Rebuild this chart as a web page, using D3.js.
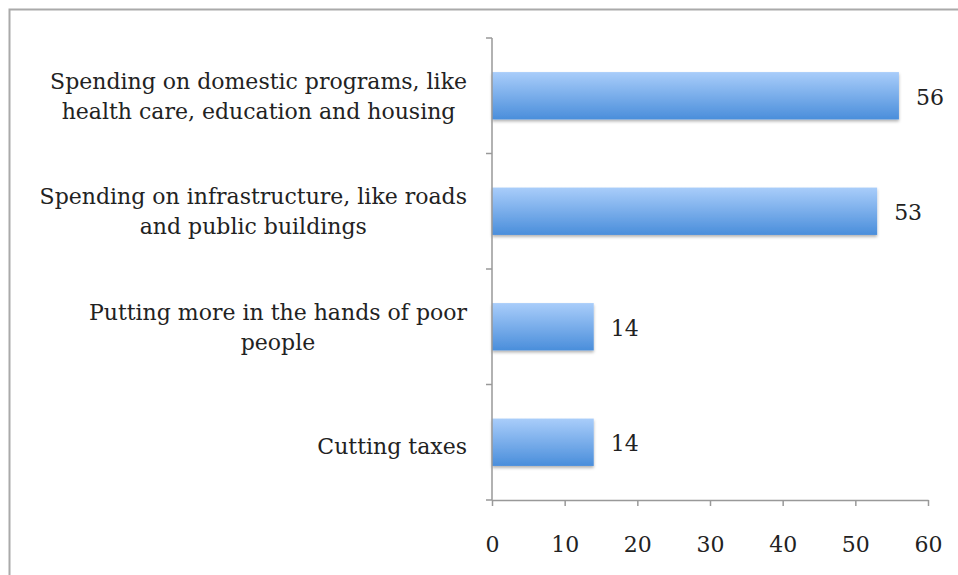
<!DOCTYPE html>
<html>
<head>
<meta charset="utf-8">
<script src="https://cdn.jsdelivr.net/npm/d3@7"></script>
<style>
  body { margin: 0; background: #fff; }
  svg { display: block; }
  text { font-family: "DejaVu Serif", "Liberation Serif", serif; fill: #222; }
</style>
</head>
<body>
<svg id="chart" width="958" height="575"></svg>
<script>
// Data
const categories = [
    ["Spending on domestic programs, like", "health care, education and housing"],
    ["Spending on infrastructure, like roads", "and public buildings"],
    ["Putting more in the hands of poor", "people"],
    ["Cutting taxes"]
];
const values = [56, 53, 14, 14];
const xTicks = [0, 10, 20, 30, 40, 50, 60];

const svg = d3.select("#chart");
const margin = { left: 492, right: 30, top: 38, bottom: 75 };
const width = 958 - margin.left - margin.right;
const height = 575 - margin.top - margin.bottom;

// frame
svg.append("rect")
    .attr("x", 9.5).attr("y", 9.5)
    .attr("width", 960).attr("height", 580)
    .attr("fill", "none")
    .attr("stroke", "#aaa")
    .attr("stroke-width", 2);

const defs = svg.append("defs");
const grad = defs.append("linearGradient")
    .attr("id", "barGrad")
    .attr("x1", 0).attr("y1", 0).attr("x2", 0).attr("y2", 1);
grad.append("stop").attr("offset", "0%").attr("stop-color", "#a9cdfa");
grad.append("stop").attr("offset", "100%").attr("stop-color", "#4a8edb");

const shadow = defs.append("filter").attr("id", "shadow")
    .attr("x", "-5%").attr("y", "-10%").attr("width", "110%").attr("height", "140%");
shadow.append("feDropShadow")
    .attr("dx", 0).attr("dy", 2).attr("stdDeviation", 1.5)
    .attr("flood-color", "#000").attr("flood-opacity", 0.3);

const g = svg.append("g").attr("transform", `translate(${margin.left},${margin.top})`);

const x = d3.scaleLinear().domain([0, 60]).range([0, 436]);
const y = d3.scaleBand().domain(d3.range(categories.length)).range([0, height]).paddingInner(0.59).paddingOuter(0.295);

// bars
g.selectAll("rect.bar")
    .data(values)
    .enter().append("rect")
    .attr("class", "bar")
    .attr("x", 0)
    .attr("y", (d, i) => y(i))
    .attr("width", d => x(d))
    .attr("height", y.bandwidth())
    .attr("fill", "url(#barGrad)")
    .attr("filter", "url(#shadow)");

// value labels
g.selectAll("text.val")
    .data(values)
    .enter().append("text")
    .attr("class", "val")
    .attr("x", d => x(d) + 17)
    .attr("y", (d, i) => y(i) + y.bandwidth() / 2 + 9)
    .attr("font-size", 22)
    .text(d => d);

// category labels, lines centred on each other, block right-aligned
const labelRight = -25;
const labels = g.selectAll("text.cat")
    .data(categories)
    .enter().append("text")
    .attr("class", "cat")
    .attr("font-size", 22);
labels.each(function (d, i) {
    const t = d3.select(this);
    const mid = y(i) + y.bandwidth() / 2;
    const first = d.length === 1 ? mid + 12 : mid - 7;
    const spans = d.map((line, j) => t.append("tspan")
        .attr("y", first + j * 30)
        .text(line));
    const lens = spans.map(s => s.node().getComputedTextLength());
    const maxLen = d3.max(lens);
    spans.forEach((s, j) => s.attr("x", labelRight - (maxLen + lens[j]) / 2));
});

// y axis line with ticks at category boundaries
const axisColor = "#999";
g.append("line")
    .attr("x1", 0).attr("x2", 0)
    .attr("y1", 0).attr("y2", height)
    .attr("stroke", axisColor).attr("stroke-width", 1.5);
const step = height / categories.length;
g.selectAll("line.ytick")
    .data(d3.range(categories.length + 1))
    .enter().append("line")
    .attr("class", "ytick")
    .attr("x1", -6).attr("x2", 0)
    .attr("y1", d => d * step).attr("y2", d => d * step)
    .attr("stroke", axisColor).attr("stroke-width", 1.5);

// x axis
const xAxis = g.append("g")
    .attr("transform", `translate(0,${height})`)
    .call(d3.axisBottom(x).tickValues(xTicks).tickSize(6).tickPadding(30).tickSizeOuter(0));
xAxis.select(".domain").attr("stroke", axisColor).attr("stroke-width", 1.5);
xAxis.selectAll(".tick line").attr("stroke", axisColor).attr("stroke-width", 1.5);
xAxis.selectAll(".tick text")
    .attr("font-size", 22)
    .attr("font-family", "DejaVu Serif, serif")
    .attr("fill", "#222");
</script>
</body>
</html>
